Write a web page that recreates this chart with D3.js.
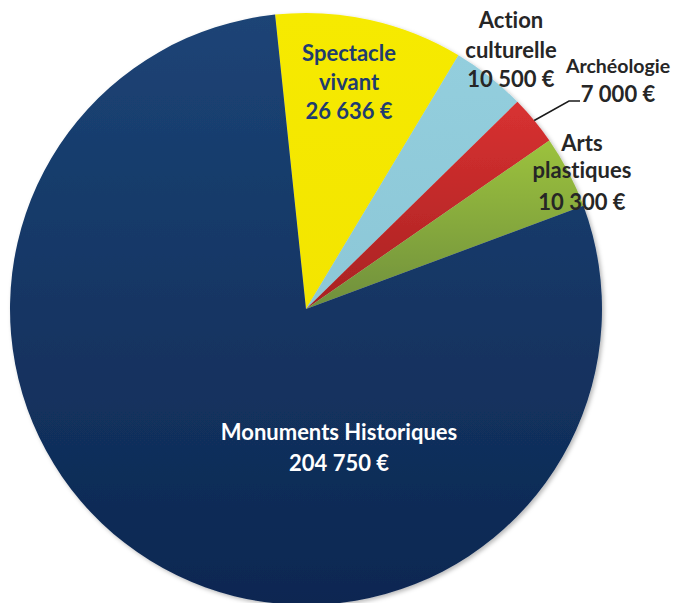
<!DOCTYPE html>
<head>
  <meta charset="utf-8">
  <title>Répartition</title>
  <script src="https://d3js.org/d3.v7.min.js"></script>
  <style>
    body { margin:0; background:#fff; }
    svg { display:block; }
    text { font-family: Lato, "Open Sans", sans-serif; font-weight: bold; font-variant-ligatures: none; }
  </style>
</head>
<body>
  <svg width="674" height="603"></svg>
  <script>
    var categories = ['Spectacle vivant', 'Action culturelle', 'Archéologie', 'Arts plastiques', 'Monuments Historiques'];
    var values = [26636, 10500, 7000, 10300, 204750];
    var valueLabels = ['26 636 €', '10 500 €', '7 000 €', '10 300 €', '204 750 €'];

    var width = 674, height = 603;
    var cx = 306, cy = 309, radius = 296;
    var startDeg = -6;

    var svg = d3.select('svg');
    var defs = svg.append('defs');

    function vGrad(id, top, bottom, user) {
      var g = defs.append('linearGradient').attr('id', id)
        .attr('x1', 0).attr('y1', 0).attr('x2', 0).attr('y2', 1);
      if (user) {
        g.attr('gradientUnits', 'userSpaceOnUse')
          .attr('x1', 0).attr('y1', -radius).attr('x2', 0).attr('y2', radius);
      }
      g.append('stop').attr('offset', '0%').attr('stop-color', top);
      g.append('stop').attr('offset', '100%').attr('stop-color', bottom);
    }
    vGrad('gSpec', '#f6ea00', '#f3e500');
    vGrad('gAct', '#93cedd', '#8cc7d7');
    vGrad('gArch', '#d83131', '#a82222');
    vGrad('gArts', '#9cc23e', '#6f8f3c');
    vGrad('gMon', '#1c4476', '#0d2751', true);
    var fills = ['url(#gSpec)', 'url(#gAct)', 'url(#gArch)', 'url(#gArts)', 'url(#gMon)'];

    var shadow = defs.append('filter').attr('id', 'shadow')
      .attr('x', '-10%').attr('y', '-10%').attr('width', '120%').attr('height', '120%');
    shadow.append('feDropShadow').attr('dx', 2).attr('dy', 2)
      .attr('stdDeviation', 2).attr('flood-color', '#000').attr('flood-opacity', 0.28);

    var start = startDeg * Math.PI / 180;
    var pie = d3.pie().sort(null).startAngle(start).endAngle(start + 2 * Math.PI);
    var arcs = pie(values);
    var arc = d3.arc().innerRadius(0).outerRadius(radius);

    var g = svg.append('g').attr('transform', 'translate(' + cx + ',' + cy + ')');
    g.append('g').attr('filter', 'url(#shadow)')
      .selectAll('path').data(arcs).enter().append('path')
      .attr('d', arc)
      .attr('fill', function(d, i) { return fills[i]; });

    // label layout: first baseline relative to centre, line height, font size, colour
    var labelLayout = [
      { dx: 43, dy: -248, lh: 29, size: 22, color: '#1f3c6f', lines: ['Spectacle', 'vivant'] },
      { dx: 205, dy: -281, lh: 29.5, size: 22, color: '#262626', lines: ['Action', 'culturelle'] },
      { dx: 312, dy: -236, lh: 29, size: 19.5, color: '#262626', lines: ['Archéologie'], valueSize: 22 },
      { dx: 276, dy: -158, lh: 27, size: 22, color: '#262626', lines: ['Arts', 'plastiques'], lastGap: 32 },
      { dx: 33, dy: 131, lh: 31, size: 22, color: '#ffffff', lines: ['Monuments Historiques'] }
    ];

    labelLayout.forEach(function(L, i) {
      var t = g.append('text').attr('text-anchor', 'middle').attr('fill', L.color);
      L.lines.forEach(function(line, j) {
        t.append('tspan').attr('x', L.dx).attr('y', L.dy + j * L.lh)
          .attr('font-size', L.size).text(line);
      });
      var n = L.lines.length;
      var gap = L.lastGap || L.lh;
      t.append('tspan').attr('x', L.dx).attr('y', L.dy + (n - 1) * L.lh + gap)
        .attr('font-size', L.valueSize || L.size).text(valueLabels[i]);
    });

    // leader line for Archéologie
    var a = arcs[2];
    var mid = (a.startAngle + a.endAngle) / 2;
    var p0 = [Math.sin(mid) * radius, -Math.cos(mid) * radius];
    var p1 = [263, -208];
    var p2 = [274, -208];
    g.append('path')
      .attr('d', d3.line()([p0, p1, p2]))
      .attr('fill', 'none').attr('stroke', '#1a1a1a').attr('stroke-width', 1.5);
  </script>
</body>
